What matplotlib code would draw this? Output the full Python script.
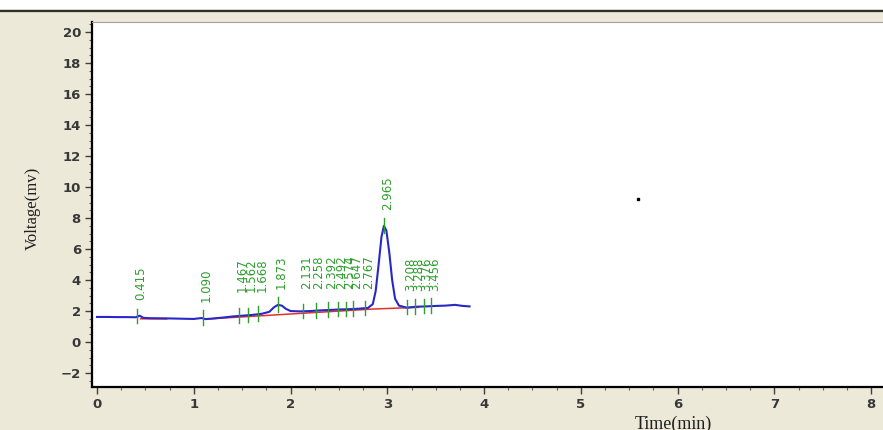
import matplotlib
matplotlib.use("Agg")
import matplotlib.pyplot as plt
from matplotlib.lines import Line2D
from matplotlib.patches import Rectangle
from matplotlib.ticker import MultipleLocator

# ---- data ----
sig_t = [0.00, 0.10, 0.20, 0.30, 0.40, 0.44, 0.48, 0.55, 0.70, 0.85, 1.00, 1.08, 1.12,
         1.20, 1.30, 1.40, 1.50, 1.60, 1.70, 1.78, 1.83, 1.87, 1.91, 1.95, 2.00, 2.10,
         2.20, 2.30, 2.40, 2.50, 2.60, 2.70, 2.80, 2.85, 2.88, 2.91, 2.94, 2.965, 2.99,
         3.02, 3.05, 3.08, 3.12, 3.20, 3.30, 3.40, 3.50, 3.60, 3.70, 3.78, 3.85]
sig_v = [1.62, 1.62, 1.61, 1.61, 1.60, 1.70, 1.56, 1.54, 1.53, 1.51, 1.49, 1.55, 1.48,
         1.52, 1.58, 1.65, 1.70, 1.75, 1.82, 1.95, 2.25, 2.40, 2.35, 2.15, 2.00, 1.98,
         2.00, 2.04, 2.07, 2.10, 2.12, 2.15, 2.20, 2.45, 3.30, 5.00, 6.80, 7.50, 7.20,
         5.80, 4.00, 2.80, 2.35, 2.22, 2.28, 2.30, 2.33, 2.35, 2.40, 2.33, 2.30]

base_t = [1.12, 2.85, 3.32]
base_v = [1.48, 2.13, 2.24]
base2_t = [0.45, 0.72]
base2_v = [1.50, 1.49]

peak_t = [0.415, 1.090, 1.467, 1.562, 1.668, 1.873, 2.131, 2.258, 2.392, 2.492,
          2.574, 2.647, 2.767, 2.965, 3.208, 3.288, 3.376, 3.456]
peak_lbl = ["0.415", "1.090", "1.467", "1.562", "1.668", "1.873", "2.131", "2.258",
            "2.392", "2.492", "2.574", "2.647", "2.767", "2.965", "3.208", "3.288",
            "3.376", "3.456"]
peak_y = [1.65, 1.55, 1.68, 1.72, 1.80, 2.40, 1.98, 2.02, 2.06, 2.10, 2.11, 2.13,
          2.17, 7.50, 2.23, 2.28, 2.30, 2.32]
label_base = [2.7, 2.6, 3.2, 3.2, 3.2, 3.4, 3.4, 3.4, 3.4, 3.4, 3.4, 3.4, 3.4, 8.5,
              3.3, 3.3, 3.3, 3.3]

dot_t = [5.59]
dot_v = [9.2]

x_ticks = [0, 1, 2, 3, 4, 5, 6, 7, 8]
y_ticks = [-2, 0, 2, 4, 6, 8, 10, 12, 14, 16, 18, 20]

# ---- figure ----
W, H = 883, 430
fig = plt.figure(figsize=(W / 100, H / 100), dpi=100)
bg = "#ECE9D8"
fig.patch.set_facecolor(bg)
fig.add_artist(Rectangle((0, 1 - 9 / H), 1, 9 / H, transform=fig.transFigure,
                         facecolor="white", edgecolor="none", zorder=0))
fig.add_artist(Line2D([0, 1], [1 - 10.5 / H, 1 - 10.5 / H], transform=fig.transFigure,
                      color="#303030", lw=1.6))

ax = fig.add_axes([92 / W, (H - 387) / H, 1 - 92 / W + 0.003, (387 - 22) / H])
ax.set_facecolor("white")
ax.set_xlim(-0.052, 8.15)
ax.set_ylim(-2.9, 20.65)

ax.spines["left"].set_linewidth(1.6)
ax.spines["bottom"].set_linewidth(1.6)
ax.spines["right"].set_visible(False)
ax.spines["top"].set_color("#A0A0A0")
ax.spines["top"].set_linewidth(0.8)

ax.set_xticks(x_ticks)
ax.set_yticks(y_ticks)
ax.xaxis.set_minor_locator(MultipleLocator(0.25))
ax.yaxis.set_minor_locator(MultipleLocator(0.5))
ax.tick_params(axis="both", which="major", length=5, width=1.0, color="#404040",
               labelsize=9.5, labelcolor="#383838", pad=3)
ax.tick_params(axis="both", which="minor", length=2.5, width=0.8, color="#606060")
for lab in ax.get_xticklabels() + ax.get_yticklabels():
    lab.set_fontweight("bold")

# signal, baseline
ax.plot(sig_t, sig_v, color="#2828C8", lw=1.5, zorder=3)
ax.plot(base_t, base_v, color="#E03030", lw=1.1, zorder=2)
ax.plot(base2_t, base2_v, color="#E03030", lw=1.1, zorder=2)

green = "#2E9E2E"
for t, lb, py, b in zip(peak_t, peak_lbl, peak_y, label_base):
    ax.plot([t, t], [py - 0.45, py + 0.5], color=green, lw=1.0, zorder=4)
    ax.text(t + 0.035, b, lb, rotation=90, ha="center", va="bottom",
            fontsize=8.5, color=green, family="DejaVu Sans", zorder=5)

ax.plot(dot_t, dot_v, "s", color="black", ms=1.8)

fig.text(33 / W, (H - 208) / H, "Voltage(mv)", rotation=90, ha="center", va="center",
         fontsize=12, family="Liberation Serif", color="#202020")
fig.text(673 / W, (H - 416) / H, "Time(min)", ha="center", va="top",
         fontsize=13, family="Liberation Serif", color="#202020")

fig.savefig("out.png", dpi=100, facecolor=bg)
